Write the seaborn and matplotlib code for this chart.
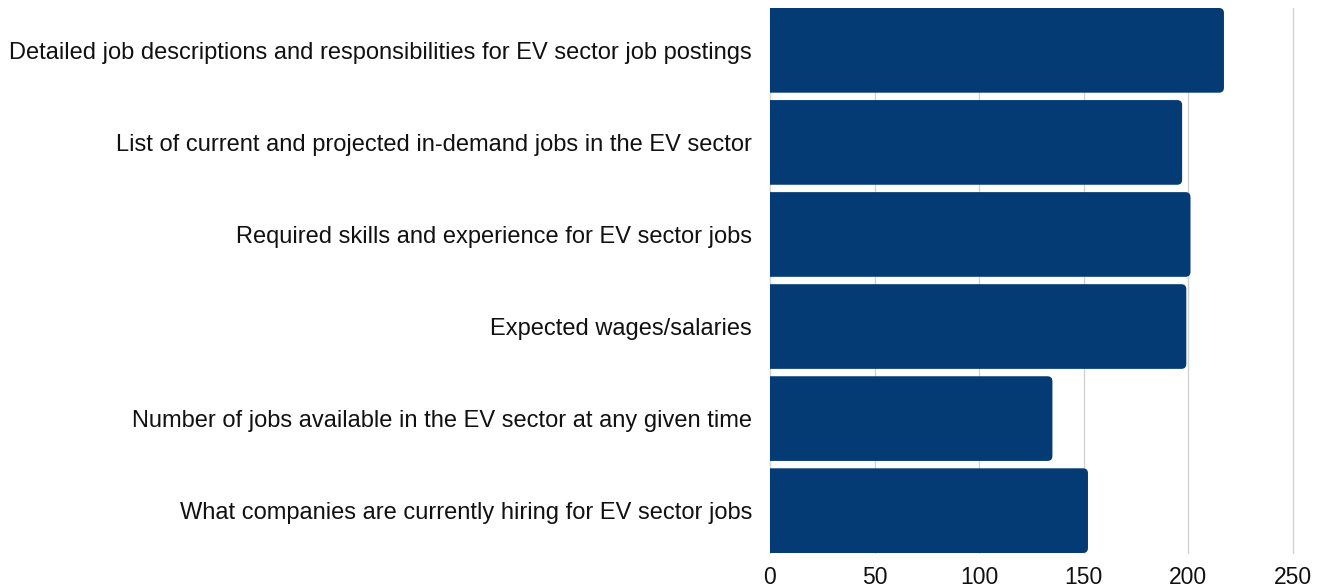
import matplotlib
matplotlib.use("Agg")
import matplotlib.pyplot as plt
import seaborn as sns
import pandas as pd
from matplotlib.patches import FancyBboxPatch

categories = [
    "Detailed job descriptions and responsibilities for EV sector job postings",
    "List of current and projected in-demand jobs in the EV sector",
    "Required skills and experience for EV sector jobs",
    "Expected wages/salaries",
    "Number of jobs available in the EV sector at any given time",
    "What companies are currently hiring for EV sector jobs",
]
counts = [217, 197, 201, 199, 135, 152]
x_ticks = [0, 50, 100, 150, 200, 250]

df = pd.DataFrame({"item": categories, "count": counts})

sns.set_theme(style="white")
plt.rcParams["font.family"] = ["Liberation Sans", "DejaVu Sans"]

W, H = 1325, 588
fig = plt.figure(figsize=(W / 100, H / 100), dpi=100)
ax = fig.add_axes([770 / W, 1 - 553 / H, (1293 - 770) / W, (553 - 8) / H])

bar_color = "#053b74"
sns.barplot(data=df, x="count", y="item", color=bar_color, width=0.92,
            saturation=1, ax=ax, zorder=2)

ax.set_xlim(0, 250)
ax.set_ylim(5.46, -0.46)

# swap the plain rectangles for boxes rounded at the value end
px_x = (1293 - 770) / 250
px_y = (553 - 8) / 5.92
r_px = 5
for p in list(ax.patches):
    x0, y0 = p.get_x(), p.get_y()
    w, h = p.get_width(), p.get_height()
    p.remove()
    rx = r_px / px_x
    box = FancyBboxPatch((x0 - 20, y0), w + 20, h,
                         boxstyle=f"round,pad=0,rounding_size={rx}",
                         mutation_aspect=(r_px / px_y) / rx,
                         facecolor=bar_color, edgecolor="none", zorder=2,
                         clip_on=True)
    ax.add_patch(box)

ax.set_xticks(x_ticks)
ax.set_xticklabels([str(t) for t in x_ticks])
ax.grid(axis="x", color="#d3d3d3", linewidth=1, zorder=0)
for gl in ax.get_xgridlines():
    gl.set_clip_on(False)
ax.grid(axis="y", visible=False)
ax.set_axisbelow(True)
for s in ax.spines.values():
    s.set_visible(False)
ax.set_xlabel("")
ax.set_ylabel("")
ax.tick_params(axis="x", length=0, pad=9, labelsize=16.5, labelcolor="#111111")
ax.tick_params(axis="y", length=0, pad=13, labelsize=17, labelcolor="#111111")

fig.savefig("out.png", dpi=100)
